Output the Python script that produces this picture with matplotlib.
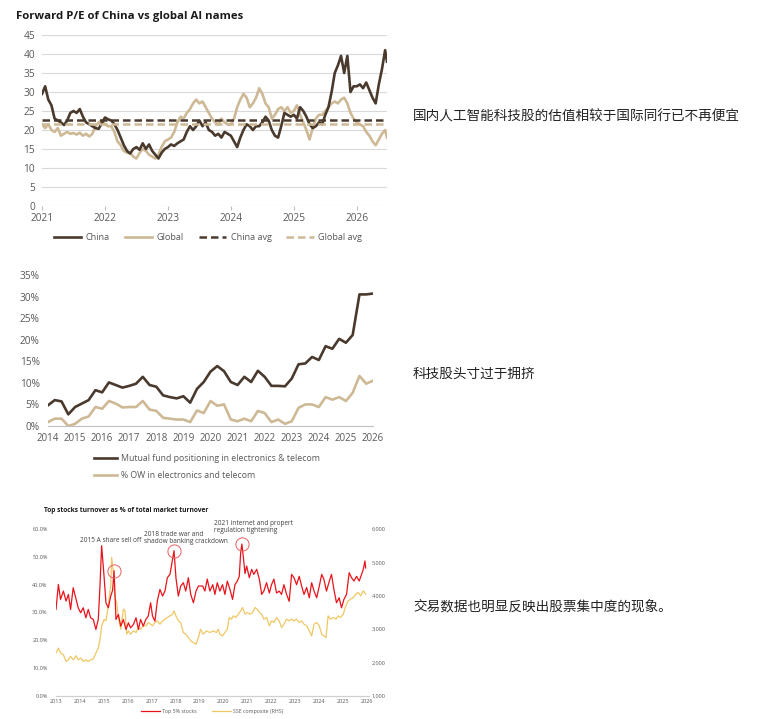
import numpy as np
import matplotlib.pyplot as plt
from matplotlib.lines import Line2D

plt.rcParams['font.family'] = ['Open Sans', 'DejaVu Sans']

W, H = 764, 719

# ---------------- chart 1: forward P/E ----------------
pe_china = [
    29.5, 31.5, 28.0, 26.5, 23.0, 22.5, 22.0, 21.3, 22.5, 24.5,
    25.0, 24.5, 25.5, 23.5, 22.0, 21.5, 21.0, 20.5, 20.3, 21.8,
    23.3, 22.8, 22.5, 21.5, 20.0, 18.0, 16.0, 14.5, 13.8, 15.0,
    15.5, 14.8, 16.5, 15.0, 16.2, 14.5, 13.5, 12.5, 14.0, 15.0,
    15.5, 16.2, 15.8, 16.5, 17.0, 17.5, 19.5, 21.0, 20.0, 21.0,
    22.5, 21.0, 22.0, 20.0, 19.5, 18.5, 19.0, 18.0, 19.5, 19.0,
    18.5, 17.0, 15.5, 18.0, 20.0, 21.5, 21.0, 20.0, 21.0, 21.0,
    22.0, 23.5, 22.5, 20.0, 18.5, 18.0, 21.0, 24.5, 24.0, 23.5,
    24.0, 23.0, 26.0, 25.0, 23.5, 21.5, 20.5, 21.0, 22.0, 21.5,
    24.0, 26.0, 30.0, 35.0, 37.0, 39.5, 35.0, 39.5, 30.0, 31.5,
    31.5, 32.0, 31.0, 32.5, 30.5, 28.5, 27.0, 32.0, 36.0, 41.0,
    38.0,
]
pe_global = [
    21.5, 20.5, 21.5, 20.0, 19.5, 20.5, 18.5, 19.0, 19.5, 19.0,
    19.2, 18.8, 19.3, 18.5, 19.0, 18.3, 19.0, 21.0, 22.0, 22.5,
    21.5, 21.0, 21.0, 19.5, 17.0, 16.0, 14.5, 14.0, 14.0, 13.0,
    12.5, 14.0, 15.0, 14.5, 13.5, 13.0, 12.5, 13.5, 15.5, 17.0,
    17.5, 18.0, 19.5, 22.0, 23.5, 23.0, 24.5, 25.5, 27.0, 28.0,
    27.0, 27.5, 26.0, 24.5, 23.0, 22.0, 21.5, 23.0, 22.0, 21.5,
    21.5, 23.0, 26.0, 28.0, 29.5, 28.5, 26.0, 27.0, 28.5, 31.0,
    29.5, 27.0, 26.0, 23.0, 24.0, 25.5, 26.0, 25.0, 26.0, 24.5,
    25.0, 26.5, 24.0, 22.0, 20.0, 17.5, 20.5, 23.0, 24.0, 24.0,
    25.0, 26.0, 27.0, 27.5, 27.0, 28.0, 28.5, 27.0, 24.5, 23.0,
    22.0, 21.5, 21.0, 19.5, 18.5, 17.0, 16.0, 17.5, 19.0, 20.0,
    18.0,
]
pe_years = [2021 + 0.05 * i for i in range(110)] + [2026.48]
china_avg = 22.6
global_avg = 21.7

# ---------------- chart 2: positioning (quarterly) ----------------
mf_positioning = [
    4.8, 6.0, 5.7, 2.7, 4.4, 5.2, 6.0, 8.3, 7.8, 10.1,
    9.5, 8.9, 9.3, 9.8, 11.4, 9.5, 9.1, 7.1, 6.7, 6.4,
    6.9, 5.4, 8.6, 10.2, 12.6, 13.9, 12.7, 10.2, 9.5, 11.4,
    10.2, 12.8, 11.4, 9.3, 9.3, 9.2, 11.0, 14.3, 14.5, 16.0,
    15.3, 18.5, 17.9, 20.2, 19.3, 21.1, 30.5, 30.5, 30.7,
]
ow_share = [
    0.9, 1.7, 1.7, 0.0, 0.5, 1.7, 2.2, 4.4, 4.0, 5.8,
    5.2, 4.3, 4.4, 4.4, 5.8, 3.8, 3.5, 1.9, 1.7, 1.5,
    1.5, 0.9, 3.6, 3.0, 5.8, 4.7, 5.0, 1.5, 1.1, 1.7,
    1.1, 3.5, 3.0, 0.9, 1.5, 0.5, 1.1, 4.2, 5.0, 5.0,
    4.4, 6.7, 6.1, 6.7, 5.8, 7.7, 11.6, 9.8, 10.5,
]
pos_years = [2014 + 0.25 * i for i in range(len(mf_positioning))]

# ---------------- chart 3: turnover concentration ----------------
turn_years = [
    2013.00, 2013.10, 2013.19, 2013.31, 2013.42, 2013.52, 2013.61, 2013.72, 2013.84, 2013.93,
    2014.03, 2014.14, 2014.25, 2014.35, 2014.45, 2014.56, 2014.67, 2014.77, 2014.84, 2014.91,
    2015.01, 2015.09, 2015.19, 2015.29, 2015.37, 2015.43, 2015.51, 2015.61, 2015.71, 2015.82,
    2015.93, 2016.03, 2016.12, 2016.24, 2016.35, 2016.45, 2016.54, 2016.65, 2016.76, 2016.86,
    2016.96, 2017.04, 2017.14, 2017.24, 2017.35, 2017.46, 2017.56, 2017.66, 2017.77, 2017.88,
    2017.94, 2018.02, 2018.12, 2018.22, 2018.33, 2018.43, 2018.54, 2018.64, 2018.75, 2018.86,
    2018.96, 2019.14, 2019.23, 2019.33, 2019.44, 2019.56, 2019.65, 2019.75, 2019.86, 2019.97,
    2020.07, 2020.17, 2020.28, 2020.39, 2020.49, 2020.59, 2020.67, 2020.73, 2020.78, 2020.84,
    2020.91, 2020.98, 2021.09, 2021.19, 2021.28, 2021.40, 2021.51, 2021.61, 2021.70, 2021.81,
    2021.93, 2022.02, 2022.12, 2022.23, 2022.34, 2022.44, 2022.54, 2022.65, 2022.76, 2022.86,
    2022.96, 2023.07, 2023.18, 2023.28, 2023.38, 2023.49, 2023.60, 2023.70, 2023.80, 2023.91,
    2024.02, 2024.12, 2024.21, 2024.32, 2024.44, 2024.53, 2024.63, 2024.74, 2024.85, 2024.95,
    2025.05, 2025.16, 2025.27, 2025.37, 2025.47, 2025.58, 2025.69, 2025.79, 2025.86, 2025.93,
    2025.96,
]
turn_pct = [
    31.1, 40.1, 34.7, 37.7, 34.1, 36.5, 31.1, 38.9, 34.7, 31.7,
    29.9, 31.7, 28.1, 31.1, 28.1, 27.5, 23.9, 27.5, 39.5, 54.0,
    43.1, 33.5, 31.7, 35.9, 38.0, 45.0, 27.5, 29.3, 25.1, 27.5,
    23.9, 26.3, 24.5, 25.7, 28.1, 23.9, 27.5, 25.1, 27.5, 28.7,
    33.5, 28.7, 26.9, 34.1, 38.3, 35.9, 37.7, 42.5, 43.7, 49.2,
    52.2, 42.5, 35.9, 39.5, 40.7, 37.7, 42.5, 36.5, 33.5, 37.7,
    39.5, 39.5, 37.7, 42.0, 37.7, 40.0, 36.5, 40.7, 37.7, 40.0,
    36.5, 41.3, 38.3, 34.7, 40.0, 41.3, 43.0, 51.6, 54.6, 50.0,
    44.0, 46.7, 42.5, 45.5, 43.7, 45.5, 42.0, 36.5, 37.7, 40.7,
    37.0, 40.0, 42.0, 37.0, 37.7, 36.5, 40.0, 36.5, 34.0, 43.7,
    42.5, 40.0, 43.0, 39.5, 36.5, 39.0, 35.3, 40.7, 37.7, 35.3,
    39.5, 43.7, 42.0, 37.7, 41.3, 43.7, 38.3, 33.5, 35.3, 31.7,
    34.7, 36.5, 44.3, 42.5, 41.3, 43.0, 41.3, 43.7, 45.5, 48.5,
    46.0,
]
sse_years = [
    2013.00, 2013.10, 2013.19, 2013.31, 2013.42, 2013.52, 2013.61, 2013.72, 2013.84, 2013.93,
    2014.03, 2014.14, 2014.25, 2014.35, 2014.45, 2014.56, 2014.67, 2014.77, 2014.84, 2014.91,
    2015.01, 2015.09, 2015.19, 2015.29, 2015.33, 2015.40, 2015.47, 2015.54, 2015.61, 2015.71,
    2015.82, 2015.89, 2015.96, 2016.03, 2016.12, 2016.24, 2016.35, 2016.45, 2016.54, 2016.65,
    2016.76, 2016.86, 2016.96, 2017.04, 2017.14, 2017.24, 2017.35, 2017.46, 2017.56, 2017.66,
    2017.77, 2017.88, 2017.94, 2018.02, 2018.12, 2018.22, 2018.33, 2018.43, 2018.54, 2018.64,
    2018.75, 2018.86, 2018.96, 2019.05, 2019.16, 2019.30, 2019.44, 2019.58, 2019.72, 2019.79,
    2019.86, 2019.97, 2020.07, 2020.17, 2020.25, 2020.35, 2020.42, 2020.53, 2020.63, 2020.73,
    2020.81, 2020.91, 2021.01, 2021.12, 2021.23, 2021.33, 2021.42, 2021.51, 2021.61, 2021.70,
    2021.81, 2021.93, 2022.02, 2022.12, 2022.23, 2022.34, 2022.44, 2022.54, 2022.65, 2022.76,
    2022.86, 2022.96, 2023.07, 2023.18, 2023.28, 2023.38, 2023.49, 2023.60, 2023.70, 2023.80,
    2023.91, 2024.02, 2024.12, 2024.21, 2024.30, 2024.39, 2024.49, 2024.60, 2024.72, 2024.81,
    2024.91, 2025.02, 2025.13, 2025.23, 2025.33, 2025.44, 2025.55, 2025.65, 2025.75, 2025.86,
    2025.96,
]
sse_val = [
    2285, 2435, 2285, 2235, 2035, 2085, 2185, 2085, 2205, 2085,
    2135, 2035, 2085, 2035, 2085, 2105, 2285, 2435, 2685, 3090,
    3290, 3250, 3700, 4300, 5150, 4700, 3950, 3800, 3350, 3000,
    3600, 3550, 2850, 2950, 2850, 2950, 2900, 3050, 3000, 3100,
    3100, 3200, 3150, 3100, 3200, 3250, 3150, 3250, 3300, 3350,
    3400, 3450, 3550, 3400, 3250, 3200, 2900, 2850, 2750, 2650,
    2600, 2550, 2750, 3000, 2850, 2950, 2900, 2950, 2900, 3000,
    2850, 2800, 2900, 3000, 3350, 3300, 3400, 3350, 3450, 3550,
    3650, 3450, 3500, 3450, 3500, 3650, 3600, 3500, 3450, 3300,
    3350, 3100, 3250, 3200, 3350, 3250, 3050, 3150, 3300, 3250,
    3300, 3250, 3300, 3200, 3250, 3150, 3100, 2950, 2800, 3150,
    3200, 3100, 2850, 2800, 2750, 3400, 3300, 3350, 3300, 3400,
    3350, 3450, 3700, 3850, 3900, 3950, 4050, 4100, 4000, 4150,
    4050,
]
# windows used to place the red circles on the turnover peaks
events = [
    ("2015 A share sell off", 2015.3, 2015.6),
    ("2018 trade war and\nshadow banking crackdown", 2017.5, 2018.5),
    ("2021 internet and propert\nregulation tightening", 2020.5, 2021.2),
]

notes = [
    "国内人工智能科技股的估值相较于国际同行已不再便宜",
    "科技股头寸过于拥挤",
    "交易数据也明显反映出股票集中度的现象。",
]

brown = '#4a3a2e'
tan = '#cdb995'
red = '#e8141c'
gold = '#efc865'
grey = '#595959'


def fx(x):
    return x / W


def fy(y):
    return 1 - y / H


fig = plt.figure(figsize=(W / 100, H / 100), dpi=100)

# ---- chart 1 ----
ax1 = fig.add_axes([fx(42), fy(206), fx(345), 171 / H])
ax1.plot(pe_years, pe_china, color=brown, lw=1.9, zorder=3)
ax1.plot(pe_years, pe_global, color=tan, lw=1.9, zorder=2)
ax1.axhline(china_avg, color=brown, lw=1.8, ls=(0, (3, 1.6)), zorder=4)
ax1.axhline(global_avg, color=tan, lw=1.8, ls=(0, (3, 1.6)), zorder=4)
ax1.set_xlim(2021, 2026.48)
ax1.set_ylim(0, 45)
ax1.set_yticks(range(0, 46, 5))
ax1.set_xticks(range(2021, 2027))
ax1.grid(axis='y', color='#d9d9d9', lw=0.8)
ax1.set_axisbelow(True)
for s in ax1.spines.values():
    s.set_visible(False)
ax1.tick_params(axis='y', length=0, labelsize=7.3, labelcolor=grey, pad=5)
ax1.tick_params(axis='x', length=3, color='#bfbfbf', labelsize=7.3, labelcolor=grey, pad=2)
fig.text(fx(16), fy(17), "Forward P/E of China vs global AI names", fontsize=8.2,
         fontweight='bold', color='#1a1a1a', va='center')
h1 = [Line2D([], [], color=brown, lw=1.9), Line2D([], [], color=tan, lw=1.9),
      Line2D([], [], color=brown, lw=1.8, ls=(0, (3, 1.6))),
      Line2D([], [], color=tan, lw=1.8, ls=(0, (3, 1.6)))]
fig.legend(h1, ["China", "Global", "China avg", "Global avg"], loc='center',
           bbox_to_anchor=(fx(208), fy(238)), ncol=4, frameon=False, fontsize=6.6,
           handlelength=3.0, columnspacing=1.6, handletextpad=0.5, labelcolor=grey)

# ---- chart 2 ----
ax2 = fig.add_axes([fx(48), fy(426), fx(325), 151 / H])
ax2.plot(pos_years, mf_positioning, color=brown, lw=1.9)
ax2.plot(pos_years, ow_share, color=tan, lw=1.9)
ax2.set_xlim(2014, 2026)
ax2.set_ylim(0, 35)
ax2.set_yticks(range(0, 36, 5))
ax2.set_yticklabels([f"{v}%" for v in range(0, 36, 5)])
ax2.set_xticks(range(2014, 2027))
for k in ['top', 'right', 'left']:
    ax2.spines[k].set_visible(False)
ax2.spines['bottom'].set_color('#bfbfbf')
ax2.tick_params(axis='y', length=0, labelsize=7.3, labelcolor=grey, pad=6)
ax2.tick_params(axis='x', length=0, labelsize=7, labelcolor=grey, pad=5)
h2 = [Line2D([], [], color=brown, lw=1.9), Line2D([], [], color=tan, lw=1.9)]
fig.legend(h2, ["Mutual fund positioning in electronics & telecom",
                "% OW in electronics and telecom"], loc='upper left',
           bbox_to_anchor=(fx(86), fy(446)), ncol=1, frameon=False, fontsize=6.3,
           handlelength=2.6, handletextpad=0.45, labelspacing=0.95, labelcolor=grey)

# ---- chart 3 ----
ax3 = fig.add_axes([fx(56), fy(696), fx(313), 167 / H])
ax3.plot(turn_years, turn_pct, color=red, lw=0.9, zorder=3)
ax3.set_xlim(2013, 2026.1)
ax3.set_ylim(0, 60)
ax3.set_yticks(range(0, 61, 10))
ax3.set_yticklabels([f"{v:.1f}%" for v in range(0, 61, 10)])
ax3.set_xticks(range(2013, 2027))
ax3b = ax3.twinx()
ax3b.plot(sse_years, sse_val, color=gold, lw=0.9, zorder=2)
ax3b.set_ylim(1000, 6000)
ax3b.set_yticks(range(1000, 6001, 1000))
ax3b.set_yticklabels([f"{v:,}" for v in range(1000, 6001, 1000)])
ax3.set_zorder(ax3b.get_zorder() + 1)
ax3.patch.set_visible(False)
for a in (ax3, ax3b):
    for k in ['top', 'right', 'left']:
        a.spines[k].set_visible(False)
    a.spines['bottom'].set_color('#d0d0d0')
    a.tick_params(length=0, labelsize=4, labelcolor=grey, pad=2)
ax3.tick_params(axis='y', pad=6)

ty = np.array(turn_years)
tp = np.array(turn_pct)
text_pos = [(80, 540), (144, 538), (214, 527)]
for (label, a, b), (px, py) in zip(events, text_pos):
    m = (ty >= a) & (ty <= b)
    i = np.argmax(np.where(m, tp, -1))
    ax3.plot(ty[i], tp[i], 'o', ms=9.5, mfc='none', mec='#e86060', mew=0.7, zorder=5)
    fig.text(fx(px), fy(py), label, fontsize=4.7, color='#404040', va='center',
             linespacing=1.15)

fig.text(fx(44), fy(510), "Top stocks turnover as % of total market turnover",
         fontsize=4.8, fontweight='bold', color='#1a1a1a', va='center')
h3 = [Line2D([], [], color=red, lw=0.9), Line2D([], [], color=gold, lw=0.9)]
fig.legend(h3, ["Top 5% stocks", "SSE composite (RHS)"], loc='center',
           bbox_to_anchor=(fx(212), fy(711)), ncol=2, frameon=False, fontsize=3.8,
           handlelength=3.5, columnspacing=3, handletextpad=0.4, labelcolor=grey)

# ---- side notes ----
for txt, y in zip(notes, [117, 374, 606]):
    fig.text(fx(413), fy(y), txt, fontsize=9.8, color='#222222', va='center',
             family=['Noto Sans CJK SC', 'DejaVu Sans'])

fig.savefig('out.png', dpi=100)
